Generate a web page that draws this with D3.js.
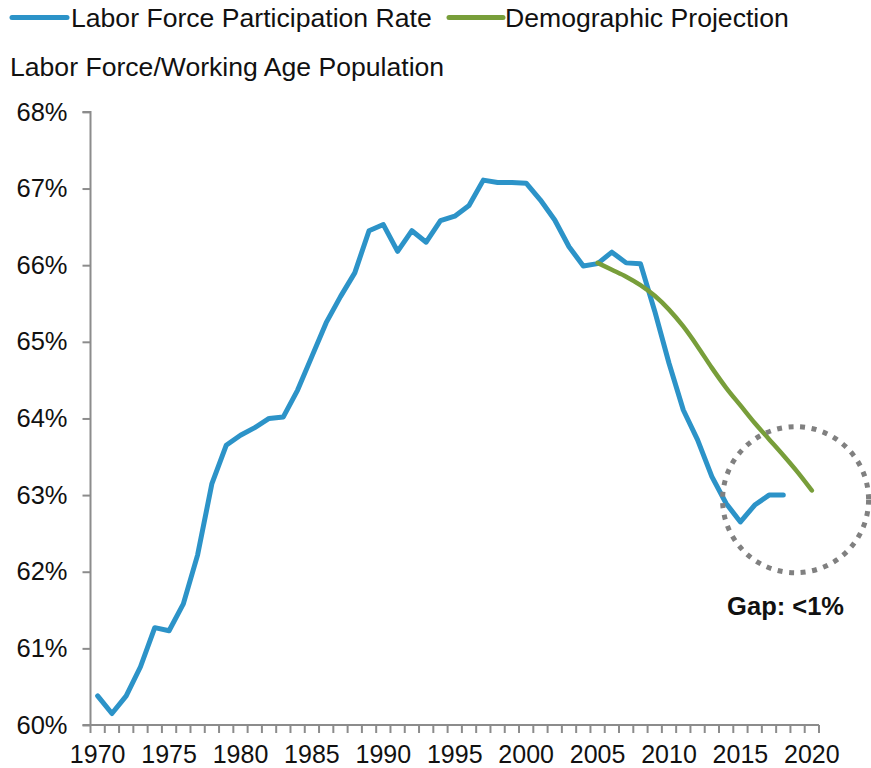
<!DOCTYPE html>
<html>
<head>
<meta charset="utf-8">
<script src="https://cdn.jsdelivr.net/npm/d3@7"></script>
<style>
  html, body { margin: 0; padding: 0; background: #fff; }
  svg { display: block; font-family: "Liberation Sans", Arial, sans-serif; }
</style>
</head>
<body>
<svg id="chart" width="871" height="768"></svg>
<script>
// ---- data ----
const categories = [1970,1971,1972,1973,1974,1975,1976,1977,1978,1979,
  1980,1981,1982,1983,1984,1985,1986,1987,1988,1989,
  1990,1991,1992,1993,1994,1995,1996,1997,1998,1999,
  2000,2001,2002,2003,2004,2005,2006,2007,2008,2009,
  2010,2011,2012,2013,2014,2015,2016,2017,2018,2019,2020];

const lfprYears = [1970,1971,1972,1973,1974,1975,1976,1977,1978,1979,
  1980,1981,1982,1983,1984,1985,1986,1987,1988,1989,
  1990,1991,1992,1993,1994,1995,1996,1997,1998,1999,
  2000,2001,2002,2003,2004,2005,2006,2007,2008,2009,
  2010,2011,2012,2013,2014,2015,2016,2017,2018];
const lfprValues = [60.38,60.15,60.38,60.76,61.27,61.23,61.58,62.22,63.15,63.65,
  63.78,63.88,64.00,64.02,64.37,64.81,65.25,65.59,65.90,66.45,
  66.53,66.18,66.45,66.30,66.58,66.64,66.78,67.11,67.08,67.08,
  67.07,66.85,66.59,66.24,65.99,66.02,66.17,66.03,66.02,65.40,
  64.72,64.11,63.72,63.24,62.89,62.65,62.87,63.00,63.00];

const projYears = [2005,2006,2007,2008,2009,2010,2011,2012,2013,2014,2015,2016,2017,2018,2019,2020];
const projValues = [66.03,65.94,65.85,65.74,65.60,65.42,65.20,64.94,64.66,64.40,64.17,63.94,63.73,63.52,63.30,63.06];

const yTicks = [60,61,62,63,64,65,66,67,68];
const xLabelYears = [1970,1975,1980,1985,1990,1995,2000,2005,2010,2015,2020];

const seriesNames = ["Labor Force Participation Rate", "Demographic Projection"];
const axisTitle = "Labor Force/Working Age Population";
const gapLabel = "Gap: <1%";

// ---- layout ----
const plotLeft = 90.5, plotRight = 819, plotTop = 111.9, plotBottom = 725;
const blue = "#2C93C8", green = "#789E3A", axisColor = "#8C8C8C";

const svg = d3.select("#chart");

const x = d3.scaleBand().domain(categories).range([plotLeft, plotRight]).padding(0);
const y = d3.scaleLinear().domain([60, 68]).range([plotBottom, plotTop]);
const xc = d => x(d) + x.bandwidth() / 2;

// legend
const legend = svg.append("g");
const legendItems = [
  {name: seriesNames[0], color: blue, x0: 12, x1: 67, tx: 71},
  {name: seriesNames[1], color: green, x0: 449, x1: 503, tx: 505}
];
legendItems.forEach(it => {
  legend.append("line").attr("x1", it.x0).attr("x2", it.x1).attr("y1", 17.5).attr("y2", 17.5)
    .attr("stroke", it.color).attr("stroke-width", 5).attr("stroke-linecap", "round");
  legend.append("text").attr("x", it.tx).attr("y", 27).attr("font-size", 26.6)
    .attr("fill", "#111").text(it.name);
});

// axis title
svg.append("text").attr("x", 10).attr("y", 76).attr("font-size", 26.6).attr("fill", "#111").text(axisTitle);

// y axis
const yAxis = d3.axisLeft(y).tickValues(yTicks).tickFormat(d => d + "%").tickSize(8).tickPadding(15);
const gy = svg.append("g").attr("transform", `translate(${plotLeft},0)`).call(yAxis);
gy.select(".domain").attr("stroke", axisColor).attr("stroke-width", 2).attr("d", `M-8,${plotTop}H0V${plotBottom}`);
gy.selectAll(".tick line").attr("stroke", axisColor).attr("stroke-width", 2);
gy.selectAll(".tick text").attr("font-size", 25.5).attr("fill", "#111").attr("font-family", "Liberation Sans, Arial, sans-serif");

// x axis line + ticks at category boundaries
const gx = svg.append("g");
gx.append("line").attr("x1", plotLeft - 8).attr("x2", plotRight).attr("y1", plotBottom).attr("y2", plotBottom)
  .attr("stroke", axisColor).attr("stroke-width", 2);
const boundaries = categories.map(c => x(c)).concat([plotRight]);
gx.selectAll("line.tk").data(boundaries).join("line").attr("class", "tk")
  .attr("x1", d => d).attr("x2", d => d).attr("y1", plotBottom).attr("y2", plotBottom + 8)
  .attr("stroke", axisColor).attr("stroke-width", 2);
const xAxis = d3.axisBottom(x).tickValues(xLabelYears).tickSize(0).tickPadding(20);
const gxl = svg.append("g").attr("transform", `translate(0,${plotBottom})`).call(xAxis);
gxl.select(".domain").remove();
gxl.selectAll(".tick text").attr("font-size", 25).attr("fill", "#111").attr("font-family", "Liberation Sans, Arial, sans-serif");

// lines
const lfpr = lfprYears.map((yr, i) => ({yr, v: lfprValues[i]}));
const proj = projYears.map((yr, i) => ({yr, v: projValues[i]}));
const line = d3.line().x(d => xc(d.yr)).y(d => y(d.v));

svg.append("path").datum(lfpr).attr("d", line).attr("fill", "none")
  .attr("stroke", blue).attr("stroke-width", 5).attr("stroke-linejoin", "round").attr("stroke-linecap", "round");
svg.append("path").datum(proj).attr("d", line.curve(d3.curveMonotoneX)).attr("fill", "none")
  .attr("stroke", green).attr("stroke-width", 4.5).attr("stroke-linejoin", "round").attr("stroke-linecap", "round");

// gap annotation circle
const xl = d3.scaleLinear().domain([1970, 2021]).range([plotLeft, plotRight]);
const circleYearPos = 2019.36, circleValue = 62.94, circleR = 73;
svg.append("circle").attr("cx", xl(circleYearPos)).attr("cy", y(circleValue)).attr("r", circleR)
  .attr("fill", "none").attr("stroke", "#808080").attr("stroke-width", 5).attr("stroke-dasharray", "5,6.6");

svg.append("text").attr("x", xl(circleYearPos) - 10).attr("y", y(circleValue) + 115)
  .attr("text-anchor", "middle").attr("font-size", 25.5).attr("font-weight", "bold").attr("fill", "#111").text(gapLabel);
</script>
</body>
</html>
